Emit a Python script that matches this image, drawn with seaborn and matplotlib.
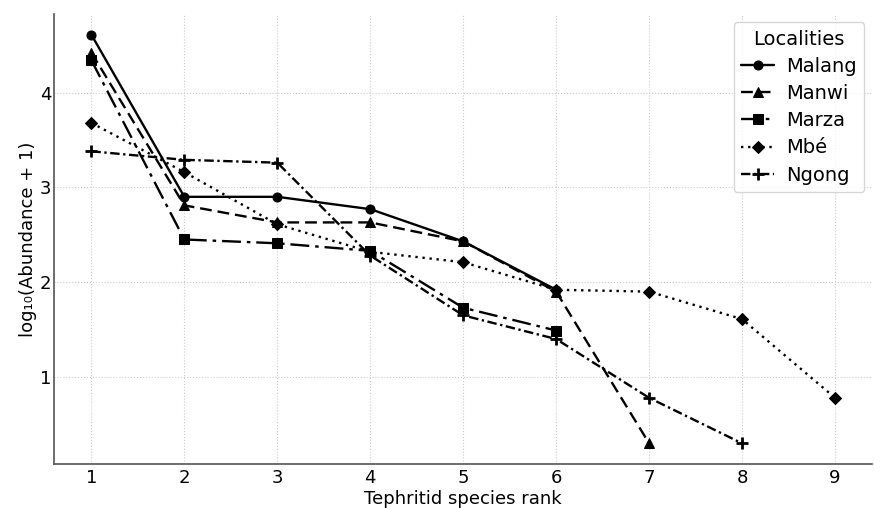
import matplotlib
matplotlib.use("Agg")
import matplotlib.pyplot as plt
import seaborn as sns
import pandas as pd

ranks_malang = [1, 2, 3, 4, 5, 6]
malang = [4.61, 2.90, 2.90, 2.77, 2.43, 1.92]
ranks_manwi = [1, 2, 3, 4, 5, 6, 7]
manwi = [4.42, 2.81, 2.63, 2.63, 2.43, 1.90, 0.30]
ranks_marza = [1, 2, 3, 4, 5, 6]
marza = [4.34, 2.45, 2.41, 2.33, 1.73, 1.49]
ranks_mbe = [1, 2, 3, 4, 5, 6, 7, 8, 9]
mbe = [3.68, 3.16, 2.61, 2.32, 2.21, 1.92, 1.90, 1.61, 0.78]
ranks_ngong = [1, 2, 3, 4, 5, 6, 7, 8]
ngong = [3.38, 3.29, 3.26, 2.28, 1.65, 1.40, 0.78, 0.30]

localities = ["Malang", "Manwi", "Marza", "Mbé", "Ngong"]
series = [(ranks_malang, malang), (ranks_manwi, manwi), (ranks_marza, marza),
          (ranks_mbe, mbe), (ranks_ngong, ngong)]

rows = []
for name, (r, v) in zip(localities, series):
    for xi, yi in zip(r, v):
        rows.append({"rank": xi, "value": yi, "Locality": name})
df = pd.DataFrame(rows)

sns.set_theme(style="whitegrid")
plt.rcParams['font.family'] = 'sans-serif'
plt.rcParams['font.sans-serif'] = ['DejaVu Sans']
plt.rcParams['text.color'] = 'black'
plt.rcParams['axes.labelcolor'] = 'black'
plt.rcParams['xtick.color'] = 'black'
plt.rcParams['ytick.color'] = 'black'

fig, ax = plt.subplots(figsize=(8.74, 5.08), dpi=100)

dashes = {"Malang": "", "Manwi": (5, 2.5), "Marza": (8, 2.5, 1.5, 2.5),
          "Mbé": (1, 2), "Ngong": (4, 1.5, 1, 1.5)}
markers = {"Malang": "o", "Manwi": "^", "Marza": "s", "Mbé": "D", "Ngong": "P"}

sns.lineplot(data=df, x="rank", y="value", style="Locality", style_order=localities,
             dashes=dashes, markers=markers, color="black", linewidth=1.7,
             markersize=6.5, markeredgecolor="black", ax=ax, sort=False)

ax.set_xticks(range(1, 10))
ax.set_yticks([1, 2, 3, 4])
ax.set_xlabel("Tephritid species rank", fontsize=13, labelpad=2)
ax.set_ylabel("log₁₀(Abundance + 1)", fontsize=13, labelpad=2)
ax.tick_params(axis="both", labelsize=13, length=0)
ax.tick_params(axis="y", pad=2)
ax.tick_params(axis="x", pad=4)
ax.grid(True, linestyle=":", color="#cccccc", linewidth=0.8)
ax.set_facecolor("white")
for s in ["top", "right"]:
    ax.spines[s].set_visible(False)
for s in ["left", "bottom"]:
    ax.spines[s].set_color("#555555")
    ax.spines[s].set_linewidth(1.2)

leg = ax.legend(title="Localities", fontsize=14, title_fontsize=14, loc="upper right",
                frameon=True, handlelength=1.7, handletextpad=0.6,
                borderaxespad=0.4, labelspacing=0.42)
leg.get_frame().set_edgecolor("#cccccc")

for line in list(ax.lines) + list(leg.legend_handles):
    if line.get_marker() == "P":
        line.set_marker("+")
        line.set_markersize(8)
        line.set_markeredgewidth(2)
for h in leg.legend_handles:
    if h.get_marker() != "+":
        h.set_markersize(6.5)

fig.subplots_adjust(left=0.062, right=0.998, top=0.972, bottom=0.087)
fig.savefig("out.png", dpi=100)
